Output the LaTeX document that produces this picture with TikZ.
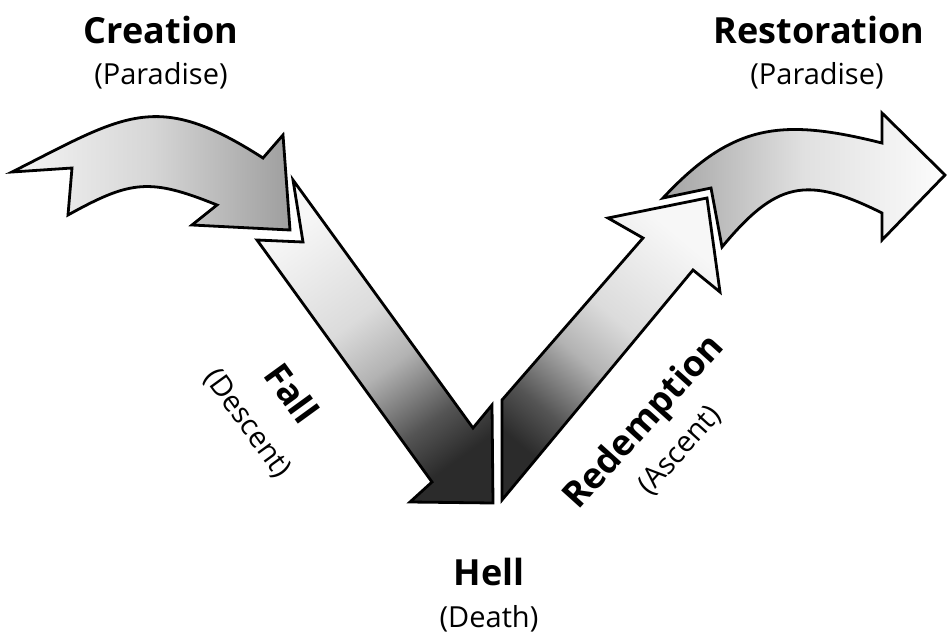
\documentclass[tikz,border=0pt]{standalone}
\usepackage{fontspec}
\setmainfont{Open Sans}
\definecolor{cA}{gray}{0.96}
\definecolor{cB}{gray}{0.84}
\definecolor{cC}{gray}{0.62}
\definecolor{fD}{gray}{0.17}
\definecolor{fE}{gray}{0.33}
\definecolor{fM}{gray}{0.70}
\definecolor{fL}{gray}{0.86}
\definecolor{fW}{gray}{0.97}
\definecolor{rG}{gray}{0.64}
\definecolor{rM}{gray}{0.88}
\definecolor{rW}{gray}{0.99}
\pgfdeclarehorizontalshading{creashade}{100bp}{color(0bp)=(cA); color(25bp)=(cA); color(50bp)=(cB); color(75bp)=(cC); color(100bp)=(cC)}
\pgfdeclareverticalshading{fallshade}{100bp}{color(0bp)=(fD); color(25bp)=(fD); color(33bp)=(fE); color(45bp)=(fM); color(55bp)=(fL); color(75bp)=(fW); color(100bp)=(fW)}
\pgfdeclarehorizontalshading{restshade}{100bp}{color(0bp)=(rG); color(25bp)=(rG); color(50bp)=(rM); color(75bp)=(rW); color(100bp)=(rW)}
\begin{document}
\begin{tikzpicture}[x=1pt,y=-1pt,
  outl/.style={draw=black, line width=2.8pt, line join=miter},
  headtxt/.style={font=\fontsize{36}{42}\selectfont\bfseries, inner sep=0pt},
  subtxt/.style={font=\fontsize{29}{34}\selectfont, inner sep=0pt}]
\useasboundingbox (0,0) rectangle (948,635);
% Creation arrow
\shade[outl, shading=creashade] (12,172) -- (72,168) -- (68,215)
  .. controls (131,180) and (150,178) .. (217,205) -- (192,225) -- (290,230)
  -- (283,135) -- (263,158) .. controls (156,89) and (125,115) .. (12,172) -- cycle;
% Fall arrow
\shade[outl, shading=fallshade, shading angle=36] (293,180) -- (473,428) -- (492,405)
  -- (493,503) -- (410,502) -- (432,482) -- (257,240) -- (303,242) -- cycle;
% Redemption arrow
\shade[outl, shading=fallshade, shading angle=-40] (502,500) -- (693,270) -- (720,292)
  -- (707,198) -- (608,218) -- (643,238) -- (502,400) -- cycle;
% Restoration arrow
\shade[outl, shading=restshade] (663,198) -- (711,188) -- (722,247)
  .. controls (776,182) and (806,175) .. (882,213) -- (882,240) -- (945,175)
  -- (882,113) -- (882,143) .. controls (782,118) and (733,123) .. (663,198) -- cycle;
% Labels
\node[headtxt, anchor=base] (creation) at (161,43) {Creation};
\node[subtxt, anchor=base] (creationsub) at (161,84) {(Paradise)};
\node[headtxt, anchor=base] (restoration) at (819,43) {Restoration};
\node[subtxt, anchor=base] (restorationsub) at (817,84) {(Paradise)};
\node[headtxt, anchor=base] (hell) at (489,585) {Hell};
\node[subtxt, anchor=base] (hellsub) at (489,627) {(Death)};
\node[headtxt, rotate=-54] (fall) at (292,393) {Fall};
\node[subtxt, rotate=-54] (fallsub) at (247,424) {(Descent)};
\node[headtxt, rotate=48] (redemption) at (645,423) {Redemption};
\node[subtxt, rotate=48] (redemptionsub) at (680,451) {(Ascent)};
\end{tikzpicture}
\end{document}
